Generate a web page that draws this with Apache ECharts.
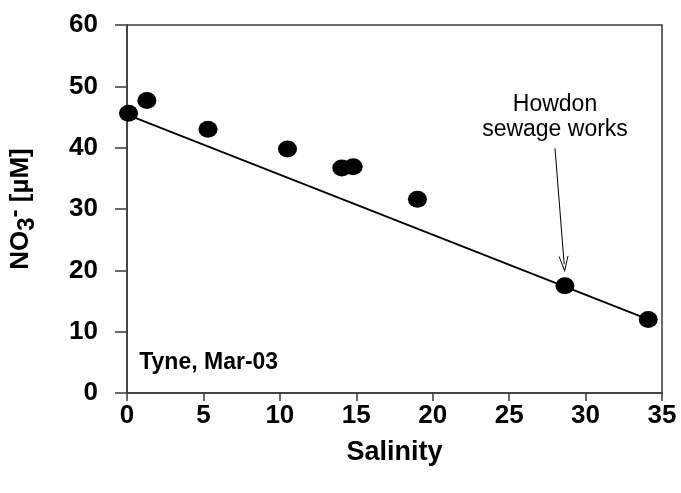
<!DOCTYPE html>
<html>
<head>
<meta charset="utf-8">
<script src="https://cdn.jsdelivr.net/npm/echarts@6/dist/echarts.min.js"></script>
<style>html,body{margin:0;padding:0;background:#fff}#c{width:681px;height:493px}</style>
</head>
<body>
<div id="c"></div>
<script>
// Data
var salinity = [0.1, 1.3, 5.3, 10.5, 14.05, 14.8, 19.0, 28.65, 34.1];
var nitrate  = [45.6, 47.7, 43.0, 39.8, 36.7, 36.9, 31.6, 17.5, 12.0];
var fitLine  = [[0, 45.4], [34.1, 12.0]];
var xTicks = [0, 5, 10, 15, 20, 25, 30, 35];
var yTicks = [0, 10, 20, 30, 40, 50, 60];
var annotationText = 'Howdon\nsewage works';
var annotationFrom = [28.0, 39.9];
var annotationTo = [28.6, 21.0];
var siteLabel = 'Tyne, Mar-03';
var siteLabelPos = [0.8, 5.0];

var pts = salinity.map(function (s, i) { return [s, nitrate[i]]; });
var FONT = 'Liberation Sans, Arial, sans-serif';
var axisCol = '#3a3a3a';

var chart = echarts.init(document.getElementById('c'), null, {renderer: 'canvas'});
chart.setOption({
  animation: false,
  backgroundColor: '#fff',
  grid: {left: 127, right: 19, top: 25, bottom: 100, containLabel: false, outerBoundsMode: 'none',
         show: true, borderColor: axisCol, borderWidth: 1.5},
  xAxis: {
    type: 'value', min: xTicks[0], max: xTicks[xTicks.length - 1], interval: 5,
    name: 'Salinity', nameLocation: 'middle', nameGap: 46,
    nameTextStyle: {fontFamily: FONT, fontWeight: 'bold', fontSize: 27, color: '#000'},
    axisLine: {lineStyle: {color: axisCol, width: 1.5}},
    axisTick: {show: true, length: 8, lineStyle: {color: axisCol, width: 1.5}},
    axisLabel: {margin: 10, fontFamily: FONT, fontWeight: 'bold', fontSize: 26, color: '#000'},
    splitLine: {show: false}
  },
  yAxis: {
    type: 'value', min: yTicks[0], max: yTicks[yTicks.length - 1], interval: 10,
    name: '{a|NO}{sub|3}{sup|-}{a| [µM]}', nameLocation: 'middle', nameGap: 88, nameRotate: 90,
    nameTextStyle: {
      fontFamily: FONT, fontWeight: 'bold', fontSize: 26, color: '#000',
      rich: {
        a: {fontFamily: FONT, fontWeight: 'bold', fontSize: 26, color: '#000', lineHeight: 36, verticalAlign: 'middle'},
        sub: {fontFamily: FONT, fontWeight: 'bold', fontSize: 24, color: '#000', lineHeight: 36, verticalAlign: 'bottom', padding: [10, 0, 0, 0]},
        sup: {fontFamily: FONT, fontWeight: 'bold', fontSize: 24, color: '#000', lineHeight: 36, verticalAlign: 'top', padding: [0, 0, 14, 0]}
      }
    },
    axisLine: {lineStyle: {color: axisCol, width: 1.5}},
    axisTick: {show: true, length: 12, lineStyle: {color: axisCol, width: 1.5}},
    axisLabel: {margin: 29, fontFamily: FONT, fontWeight: 'bold', fontSize: 26, color: '#000'},
    splitLine: {show: false}
  },
  series: [
    {
      type: 'line', data: fitLine, symbol: 'none', z: 2,
      lineStyle: {color: '#000', width: 1.8},
      markLine: {
        silent: true, symbol: ['none', 'path://M0,10 L5,0 L10,10 L9,10 L5,2 L1,10 Z'],
        symbolSize: [10, 16],
        lineStyle: {color: '#000', width: 1, type: 'solid'},
        label: {show: false},
        data: [[{coord: annotationFrom}, {coord: annotationTo}]]
      }
    },
    {
      type: 'scatter', data: pts, symbol: 'circle', symbolSize: [19, 17], z: 3,
      itemStyle: {color: '#000', opacity: 1}
    },
    {
      type: 'scatter', symbolSize: 0, z: 4, silent: true,
      itemStyle: {color: '#000', opacity: 1},
      data: [
        {value: siteLabelPos, label: {show: true, position: 'right', distance: 0, formatter: siteLabel,
          fontFamily: FONT, fontWeight: 'bold', fontSize: 23, color: '#000'}},
        {value: [annotationFrom[0], annotationFrom[1]], label: {show: true, position: 'top', distance: 6, formatter: annotationText,
          fontFamily: FONT, fontSize: 23, color: '#000', lineHeight: 25, align: 'center'}}
      ]
    }
  ]
});
</script>
</body>
</html>
